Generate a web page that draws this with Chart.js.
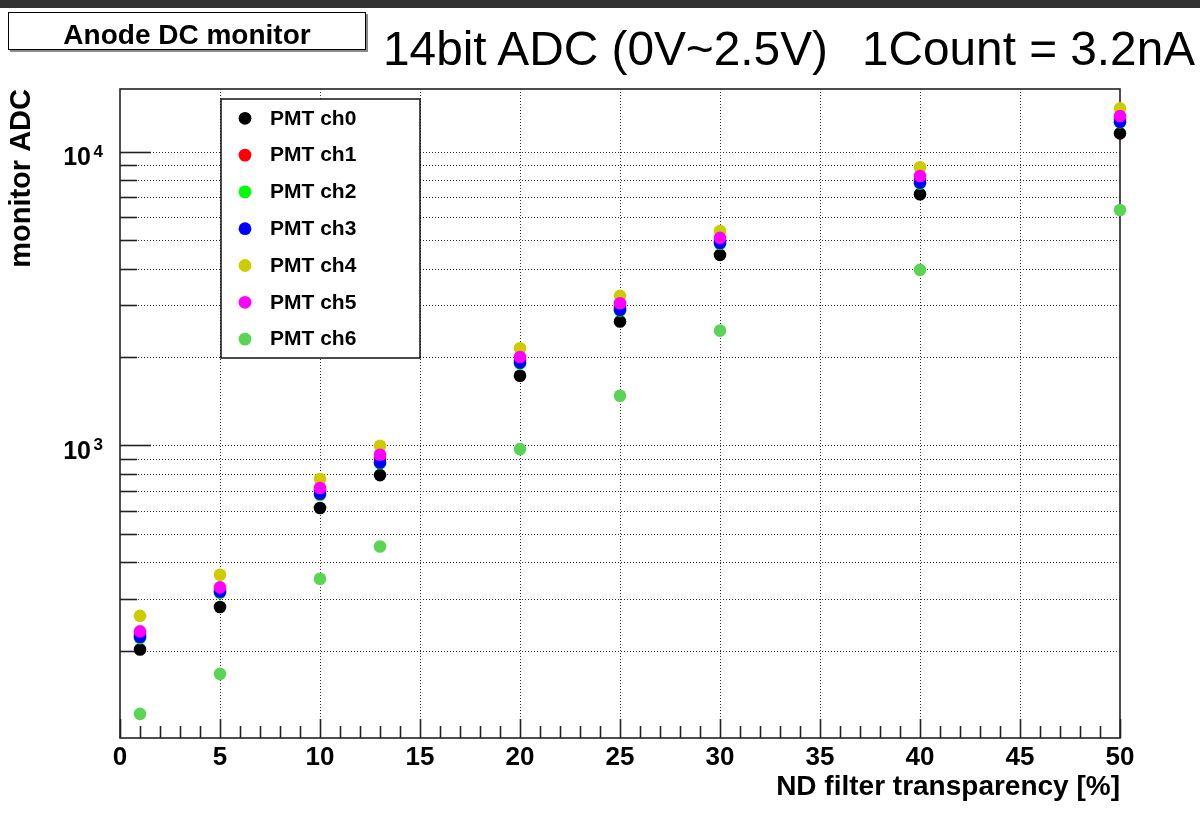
<!DOCTYPE html>
<html><head><meta charset="utf-8">
<script src="https://cdn.jsdelivr.net/npm/chart.js@4.4.0/dist/chart.umd.min.js"></script>
<style>
html,body{margin:0;padding:0;background:#fff;}
#wrap{position:relative;width:1200px;height:816px;overflow:hidden;background:#fff;}
#bar{position:absolute;left:0;top:0;width:1200px;height:8px;background:#323232;z-index:2;}
#tbox{position:absolute;left:8px;top:12px;width:356px;height:36px;border:1px solid #000;box-shadow:2px 2px 0 #8a8a8a;background:#fff;z-index:2;}
#tbox span{position:absolute;left:0;right:0;top:8.3px;text-align:center;font:bold 28px 'Liberation Sans',Arial,sans-serif;line-height:28px;color:#000;}
.big{position:absolute;top:25.4px;font:48px 'Liberation Sans',Arial,sans-serif;line-height:48px;white-space:pre;color:#000;z-index:2;}
canvas{position:absolute;left:0;top:0;}
</style></head>
<body>
<div id="wrap">
  <canvas id="c" width="1200" height="816"></canvas>
  <div id="bar"></div>
  <div id="tbox"><span>Anode DC monitor</span></div>
  <div class="big" id="t1" style="left:383px;">14bit ADC (0V~2.5V)</div>
  <div class="big" id="t2" style="left:862px;">1Count = 3.2nA</div>
</div>
<script>
// ---- data ----
const xValues = [1, 5, 10, 13, 20, 25, 30, 40, 50];
const ch0 = [202, 282, 613, 793, 1727, 2642, 4455, 7165, 11550];
const ch1 = [228, 322, 700, 900, 1950, 2960, 4980, 8000, 12900];
const ch2 = [221, 315, 680, 870, 1900, 2880, 4860, 7800, 12600];
const ch3 = [223, 318, 685, 875, 1915, 2895, 4890, 7850, 12650];
const ch4 = [263, 363, 769, 998, 2144, 3230, 5375, 8850, 14050];
const ch5 = [233, 329, 717, 930, 2000, 3050, 5090, 8265, 13220];
const ch6 = [122, 167, 352, 453, 972, 1476, 2460, 3960, 6335];
const seriesLabels = ['PMT ch0','PMT ch1','PMT ch2','PMT ch3','PMT ch4','PMT ch5','PMT ch6'];
const seriesColors = ['#000000','#ff0000','#00ff00','#0000ff','#cccc00','#ff00ff','#59d454'];
const xTickLabels = [0, 5, 10, 15, 20, 25, 30, 35, 40, 45, 50];
const yTickValues = [200,300,400,500,600,700,800,900,1000,2000,3000,4000,5000,6000,7000,8000,9000,10000];
const yTickLabels = {1000: ['10', '3'], 10000: ['10', '4']};

const FONT = "'Liberation Sans', Arial, Helvetica, sans-serif";
const allSeries = [ch0, ch1, ch2, ch3, ch4, ch5, ch6];

// fit header text widths
(function(){
  const fit = (id, w) => { const el = document.getElementById(id); const r = el.getBoundingClientRect().width; el.style.transformOrigin = '0 0'; el.style.transform = 'scaleX(' + (w / r) + ')'; };
  fit('t1', 445); fit('t2', 333);
})();

const datasets = allSeries.map((s, i) => ({
  label: seriesLabels[i],
  data: s.map((v, j) => ({x: xValues[j], y: v})),
  backgroundColor: seriesColors[i],
  borderColor: seriesColors[i],
  pointRadius: 6.3,
  pointHoverRadius: 6.3,
  pointBorderWidth: 0,
  showLine: false,
  clip: false,
  order: allSeries.length - 1 - i
}));

const rootFrame = {
  id: 'rootFrame',
  beforeDatasetsDraw(chart) {
    const {ctx, chartArea: a, scales: {x, y}} = chart;
    ctx.save();
    // dotted grid
    ctx.strokeStyle = '#333';
    ctx.lineWidth = 1;
    ctx.setLineDash([1, 2]);
    xTickLabels.forEach(v => {
      if (v <= x.min || v >= x.max) return;
      const px = Math.round(x.getPixelForValue(v)) + 0.5;
      ctx.beginPath(); ctx.moveTo(px, a.top); ctx.lineTo(px, a.bottom); ctx.stroke();
    });
    yTickValues.forEach(v => {
      const py = Math.round(y.getPixelForValue(v)) + 0.5;
      ctx.beginPath(); ctx.moveTo(a.left, py); ctx.lineTo(a.right, py); ctx.stroke();
    });
    ctx.setLineDash([]);
    // tick marks
    ctx.strokeStyle = '#222';
    ctx.lineWidth = 1.6;
    yTickValues.forEach(v => {
      const py = Math.round(y.getPixelForValue(v)) + 0.5;
      const len = yTickLabels[v] ? 31 : 17;
      ctx.beginPath(); ctx.moveTo(a.left, py); ctx.lineTo(a.left + len, py); ctx.stroke();
    });
    for (let v = x.min; v <= x.max; v += 1) {
      const px = Math.round(x.getPixelForValue(v)) + 0.5;
      const len = (v % 5 === 0) ? 19 : 12;
      ctx.beginPath(); ctx.moveTo(px, a.bottom); ctx.lineTo(px, a.bottom - len); ctx.stroke();
    }
    // frame
    ctx.strokeRect(a.left, a.top, a.right - a.left, a.bottom - a.top);
    // y decade labels with superscript exponent
    ctx.fillStyle = '#000';
    ctx.textBaseline = 'alphabetic';
    Object.keys(yTickLabels).forEach(k => {
      const [base, exp] = yTickLabels[k];
      const py = y.getPixelForValue(Number(k));
      ctx.font = 'bold 25px ' + FONT;
      ctx.textAlign = 'right';
      ctx.fillText(base, 91, py + 13.3);
      ctx.font = 'bold 17px ' + FONT;
      ctx.textAlign = 'left';
      ctx.fillText(exp, 93.5, py + 5);
    });
    ctx.restore();
  },
  afterDraw(chart) {
    const {ctx} = chart;
    const box = {x: 221, y: 99, w: 199, h: 259};
    ctx.save();
    ctx.fillStyle = '#fff';
    ctx.fillRect(box.x, box.y, box.w, box.h);
    ctx.strokeStyle = '#111';
    ctx.lineWidth = 1.5;
    ctx.strokeRect(box.x, box.y, box.w, box.h);
    ctx.font = 'bold 21px ' + FONT;
    ctx.textBaseline = 'middle';
    ctx.textAlign = 'left';
    chart.data.datasets.forEach((ds, i) => {
      const cy = 118.3 + i * 36.8;
      ctx.fillStyle = ds.backgroundColor;
      ctx.beginPath(); ctx.arc(245, cy, 6.4, 0, Math.PI * 2); ctx.fill();
      ctx.fillStyle = '#000';
      ctx.fillText(ds.label, 270, cy + 0.5);
    });
    ctx.restore();
  }
};

new Chart(document.getElementById('c'), {
  type: 'scatter',
  data: {datasets},
  plugins: [rootFrame],
  options: {
    responsive: false,
    animation: false,
    devicePixelRatio: 1,
    layout: {padding: {left: 0, top: 89, right: 80, bottom: 0}},
    plugins: {legend: {display: false}, tooltip: {enabled: false}},
    scales: {
      x: {
        type: 'linear', min: 0, max: 50,
        grid: {display: false, drawTicks: false},
        border: {display: false},
        afterFit: s => { s.height = 78; },
        afterBuildTicks: s => { s.ticks = xTickLabels.map(v => ({value: v})); },
        ticks: {autoSkip: false, maxRotation: 0, padding: 4.4, color: '#000',
                font: {family: FONT, weight: 'bold', size: 26}},
        title: {display: true, text: 'ND filter transparency [%]', align: 'end', color: '#000',
                font: {family: FONT, weight: 'bold', size: 28}, padding: {top: 0, bottom: 12}}
      },
      y: {
        type: 'logarithmic', min: 101, max: 16350,
        grid: {display: false, drawTicks: false},
        border: {display: false},
        afterFit: s => { s.width = 120; },
        afterBuildTicks: s => { s.ticks = yTickValues.map(v => ({value: v})); },
        ticks: {display: false},
        title: {display: true, text: 'monitor ADC', align: 'end', color: '#000',
                font: {family: FONT, weight: 'bold', size: 29}, padding: {top: 5, bottom: 0}}
      }
    }
  }
});
</script>
</body></html>
